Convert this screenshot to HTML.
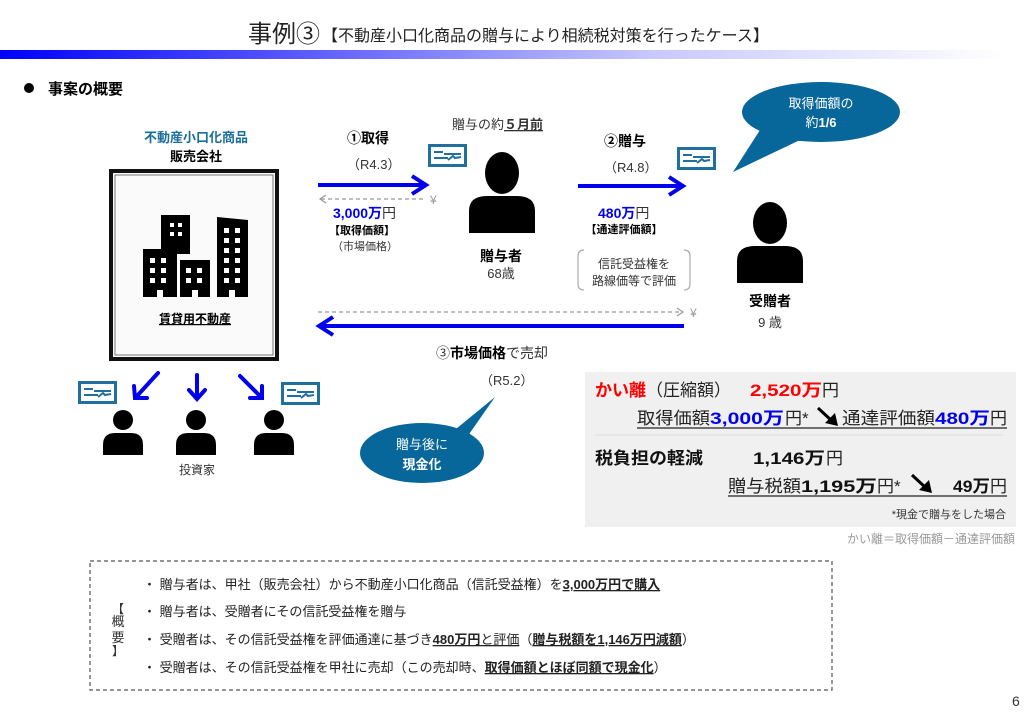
<!DOCTYPE html>
<html><head><meta charset="utf-8">
<style>
html,body{margin:0;padding:0;background:#fff;}
svg{display:block;font-family:"Liberation Sans","Noto Sans CJK JP",sans-serif;}
.b{font-weight:bold}
</style></head><body>
<svg width="1024" height="720" viewBox="0 0 1024 720" xmlns="http://www.w3.org/2000/svg">
<defs>
<linearGradient id="g" x1="0" x2="1" y1="0" y2="0">
<stop offset="0" stop-color="#0000ff"/><stop offset="0.3" stop-color="#5a5aff"/><stop offset="0.65" stop-color="#c8c8ff"/><stop offset="1" stop-color="#ffffff"/>
</linearGradient>
<g id="card"><rect x="1.5" y="1.5" width="36" height="20" fill="#fff" stroke="#1f6f9f" stroke-width="3"/>
<rect x="6" y="7" width="9" height="2" fill="#1f6f9f"/><rect x="16" y="9" width="17" height="2" fill="#1f6f9f"/>
<rect x="6" y="13" width="14" height="2" fill="#1f6f9f"/><path d="M20 16 L25 12 L27 14 L33 13" stroke="#1f6f9f" stroke-width="2" fill="none"/></g>
<g id="person"><ellipse cx="0" cy="-28" rx="17" ry="21" fill="#000"/>
<path d="M-33 32 L-33 10 Q-33 -5 -15 -5 L15 -5 Q33 -5 33 10 L33 32 Z" fill="#000"/></g>
<g id="sp"><circle cx="0" cy="-13" r="10" fill="#000"/><path d="M-20 22 L-20 12 Q-20 0 -8 0 L8 0 Q20 0 20 12 L20 22 Z" fill="#000"/></g>
</defs>

<text x="248" y="42" font-size="24" fill="#222">事例③</text>
<text x="322" y="41" font-size="16" fill="#222">【不動産小口化商品の贈与により相続税対策を行ったケース】</text>
<rect x="0" y="50" width="1005" height="9" fill="url(#g)"/>

<circle cx="29" cy="88" r="5" fill="#000"/>
<text x="48" y="94" font-size="15" class="b">事案の概要</text>

<text x="196" y="142" font-size="13" class="b" fill="#1a6e9a" text-anchor="middle">不動産小口化商品</text>
<text x="196" y="161" font-size="13" class="b" text-anchor="middle">販売会社</text>
<rect x="111" y="171" width="166" height="188" fill="#fafafa" stroke="#111" stroke-width="4"/>
<rect x="115" y="175" width="158" height="180" fill="none" stroke="#777" stroke-width="1"/>
<g fill="#000">
<path d="M161 215 H190 V254 H177 V249 H161 Z"/>
<rect x="143" y="249" width="34" height="48"/>
<rect x="180" y="260" width="30" height="37"/>
<path d="M217 217 L248 220 V297 H217 Z"/>
</g>
<g fill="#fff">
<rect x="170" y="223" width="4" height="4"/><rect x="178" y="223" width="4" height="4"/>
<rect x="170" y="232" width="4" height="4"/><rect x="178" y="232" width="4" height="4"/>
<rect x="150" y="258" width="5" height="5"/><rect x="161" y="258" width="5" height="5"/>
<rect x="150" y="268" width="5" height="5"/><rect x="161" y="268" width="5" height="5"/>
<rect x="150" y="278" width="5" height="5"/><rect x="161" y="278" width="5" height="5"/>
<rect x="157" y="290" width="6" height="7"/>
<rect x="186" y="268" width="5" height="5"/><rect x="197" y="268" width="5" height="5"/>
<rect x="186" y="278" width="5" height="5"/><rect x="197" y="278" width="5" height="5"/>
<rect x="192" y="290" width="6" height="7"/>
<rect x="224" y="228" width="5" height="5"/><rect x="235" y="228" width="5" height="5"/>
<rect x="224" y="238" width="5" height="5"/><rect x="235" y="238" width="5" height="5"/>
<rect x="224" y="248" width="5" height="5"/><rect x="235" y="248" width="5" height="5"/>
<rect x="224" y="258" width="5" height="5"/><rect x="235" y="258" width="5" height="5"/>
<rect x="224" y="268" width="5" height="5"/><rect x="235" y="268" width="5" height="5"/>
<rect x="224" y="278" width="5" height="5"/><rect x="235" y="278" width="5" height="5"/>
<rect x="229" y="290" width="6" height="7"/>
</g>
<text x="195" y="323" font-size="12" class="b" text-anchor="middle" text-decoration="underline">賃貸用不動産</text>

<g stroke="#0000ee" stroke-width="4" fill="none" stroke-linecap="round">
<path d="M158 373 L137 396"/><path d="M134 386 L135 398 L147 398"/>
<path d="M197 375 L197 398"/><path d="M189 390 L197 399 L205 390"/>
<path d="M240 376 L261 397"/><path d="M250 398 L262 398 L262 386"/>
</g>
<use href="#card" x="78" y="381"/>
<use href="#card" x="281" y="382"/>
<use href="#sp" x="123" y="433"/>
<use href="#sp" x="196" y="433"/>
<use href="#sp" x="274" y="433"/>
<text x="197" y="474" font-size="12" text-anchor="middle" fill="#333">投資家</text>

<text x="347" y="143" font-size="14" class="b">①取得</text>
<text x="347" y="169" font-size="13" fill="#333">（R4.3）</text>
<line x1="318" y1="185" x2="423" y2="185" stroke="#0000ee" stroke-width="4"/>
<path d="M412 176 L426 185 L412 194" stroke="#0000ee" stroke-width="4" fill="none"/>
<line x1="321" y1="199" x2="424" y2="199" stroke="#999" stroke-width="1.2" stroke-dasharray="4,3"/>
<path d="M326 195 L320 199 L326 203" stroke="#999" stroke-width="1.2" fill="none"/>
<text x="430" y="204" font-size="12" fill="#999">¥</text>
<text x="333" y="218" font-size="14" class="b" fill="#0000ee">3,000万<tspan fill="#333" font-weight="normal">円</tspan></text>
<text x="362" y="234" font-size="11" class="b" text-anchor="middle">【取得価額】</text>
<text x="365" y="250" font-size="11" text-anchor="middle" fill="#333">（市場価格）</text>
<use href="#card" x="428" y="144"/>

<text x="452" y="129" font-size="13" fill="#333">贈与の約<tspan font-weight="bold" text-decoration="underline">５月前</tspan></text>
<use href="#person" x="502" y="201"/>
<text x="501" y="261" font-size="14" class="b" text-anchor="middle">贈与者</text>
<text x="501" y="278" font-size="13" text-anchor="middle" fill="#333">68歳</text>

<text x="604" y="146" font-size="14" class="b">②贈与</text>
<text x="604" y="172" font-size="13" fill="#333">（R4.8）</text>
<line x1="578" y1="186" x2="680" y2="186" stroke="#0000ee" stroke-width="4"/>
<path d="M669 177 L683 186 L669 195" stroke="#0000ee" stroke-width="4" fill="none"/>
<use href="#card" x="677" y="147"/>
<text x="598" y="218" font-size="14" class="b" fill="#0000ee">480万<tspan fill="#333" font-weight="normal">円</tspan></text>
<text x="624" y="233" font-size="11" class="b" text-anchor="middle">【通達評価額】</text>
<path d="M584 250 Q578 250 578 256 L578 284 Q578 290 584 290" stroke="#aaa" stroke-width="1.2" fill="none"/>
<path d="M684 250 Q690 250 690 256 L690 284 Q690 290 684 290" stroke="#aaa" stroke-width="1.2" fill="none"/>
<text x="634" y="268" font-size="12" text-anchor="middle" fill="#333">信託受益権を</text>
<text x="634" y="285" font-size="12" text-anchor="middle" fill="#333">路線価等で評価</text>

<path d="M760 130 L733 172 L800 140 Z" fill="#07669a"/>
<ellipse cx="821" cy="112" rx="79" ry="30" fill="#07669a"/>
<text x="821" y="108" font-size="13" fill="#fff" text-anchor="middle">取得価額の</text>
<text x="821" y="127" font-size="13" fill="#fff" text-anchor="middle">約<tspan font-weight="bold">1/6</tspan></text>

<use href="#person" x="770" y="251"/>
<text x="770" y="306" font-size="14" class="b" text-anchor="middle">受贈者</text>
<text x="770" y="327" font-size="13" text-anchor="middle" fill="#333">9 歳</text>

<line x1="318" y1="312" x2="683" y2="312" stroke="#999" stroke-width="1.2" stroke-dasharray="4,3"/>
<path d="M677 308 L683 312 L677 316" stroke="#999" stroke-width="1.2" fill="none"/>
<text x="690" y="317" font-size="12" fill="#999">¥</text>
<line x1="322" y1="326" x2="684" y2="326" stroke="#0000ee" stroke-width="4"/>
<path d="M333 317 L319 326 L333 335" stroke="#0000ee" stroke-width="4" fill="none"/>
<text x="492" y="358" font-size="14" text-anchor="middle" fill="#333">③<tspan font-weight="bold" fill="#000">市場価格</tspan>で売却</text>
<text x="480" y="385" font-size="13" fill="#333">（R5.2）</text>

<path d="M445 438 L495 397 L465 440 Z" fill="#07669a"/>
<ellipse cx="422" cy="453" rx="62" ry="30" fill="#07669a"/>
<text x="422" y="449" font-size="13" fill="#fff" text-anchor="middle">贈与後に</text>
<text x="422" y="469" font-size="13" fill="#fff" text-anchor="middle" class="b">現金化</text>

<rect x="585" y="372" width="431" height="155" fill="#f0f0f0"/>
<g font-size="17" fill="#222">
<text x="595" y="396" class="b" fill="#ff0000">かい離</text>
<text x="646" y="396">（圧縮額）</text>
<text x="750" y="396" class="b" fill="#ff0000" textLength="72" lengthAdjust="spacingAndGlyphs">2,520万</text><text x="822" y="396">円</text>

<text x="637" y="424" textLength="73" lengthAdjust="spacingAndGlyphs">取得価額</text>
<text x="710" y="424" class="b" fill="#0000ee" textLength="74" lengthAdjust="spacingAndGlyphs">3,000万</text>
<text x="785" y="424">円*</text>
<text x="842" y="424" textLength="93" lengthAdjust="spacingAndGlyphs">通達評価額</text>
<text x="935" y="424" class="b" fill="#0000ee" textLength="55" lengthAdjust="spacingAndGlyphs">480万</text>
<text x="990" y="424">円</text>

<text x="595" y="464" class="b" fill="#111" textLength="108" lengthAdjust="spacingAndGlyphs">税負担の軽減</text>
<text x="753" y="464" class="b" fill="#111" textLength="72" lengthAdjust="spacingAndGlyphs">1,146万</text><text x="826" y="464">円</text>

<text x="728" y="492" textLength="73" lengthAdjust="spacingAndGlyphs">贈与税額</text>
<text x="801" y="492" class="b" fill="#111" textLength="76" lengthAdjust="spacingAndGlyphs">1,195万</text>
<text x="877" y="492">円*</text>
<text x="953" y="492" class="b" fill="#111" textLength="37" lengthAdjust="spacingAndGlyphs">49万</text>
<text x="990" y="492">円</text>
</g>
<line x1="637" y1="428" x2="1007" y2="428" stroke="#222" stroke-width="1.2"/>
<path d="M818 408 L832 421" stroke="#000" stroke-width="3"/><path d="M825 423 L838 426 L835 413 Z" fill="#000"/>
<line x1="595" y1="435" x2="1003" y2="435" stroke="#ddd" stroke-width="1"/>
<line x1="728" y1="496" x2="1007" y2="496" stroke="#222" stroke-width="1.2"/>
<path d="M912 475 L926 488" stroke="#000" stroke-width="3"/><path d="M919 490 L932 493 L929 480 Z" fill="#000"/>
<text x="1006" y="518" font-size="11" text-anchor="end" fill="#333">*現金で贈与をした場合</text>
<text x="1015" y="543" font-size="12" text-anchor="end" fill="#999">かい離＝取得価額－通達評価額</text>

<rect x="90" y="561" width="742" height="129" fill="none" stroke="#555" stroke-width="1.2" stroke-dasharray="4,3"/>
<text x="118" y="613" font-size="12" text-anchor="middle" fill="#333">【</text>
<text x="118" y="626" font-size="13" text-anchor="middle" fill="#333">概</text>
<text x="118" y="642" font-size="13" text-anchor="middle" fill="#333">要</text>
<text x="118" y="655" font-size="12" text-anchor="middle" fill="#333">】</text>
<g font-size="13" fill="#222">
<text x="143" y="589">・ 贈与者は、甲社（販売会社）から不動産小口化商品（信託受益権）を<tspan font-weight="bold" text-decoration="underline">3,000万円で購入</tspan></text>
<text x="143" y="616">・ 贈与者は、受贈者にその信託受益権を贈与</text>
<text x="143" y="644">・ 受贈者は、その信託受益権を評価通達に基づき<tspan font-weight="bold" text-decoration="underline">480万円</tspan><tspan text-decoration="underline">と評価</tspan>（<tspan font-weight="bold" text-decoration="underline">贈与税額を1,146万円減額</tspan>）</text>
<text x="143" y="672">・ 受贈者は、その信託受益権を甲社に売却（この売却時、<tspan font-weight="bold" text-decoration="underline">取得価額とほぼ同額で現金化</tspan>）</text>
</g>
<text x="1012" y="706" font-size="14" fill="#333">6</text>
</svg>
</body></html>
